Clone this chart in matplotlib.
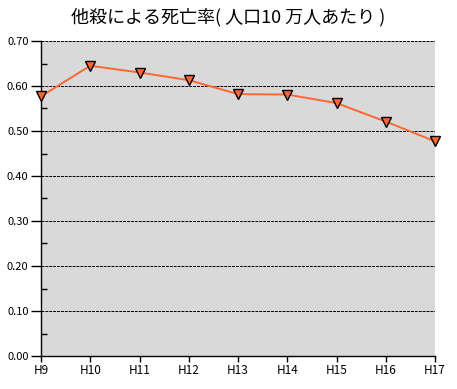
import numpy as np
import matplotlib.pyplot as plt
from matplotlib.ticker import MultipleLocator

plt.rcParams['font.family'] = ['Noto Sans CJK JP', 'DejaVu Sans']

# data
years = ['H9', 'H10', 'H11', 'H12', 'H13', 'H14', 'H15', 'H16', 'H17']
rate = [0.577, 0.645, 0.630, 0.613, 0.582, 0.581, 0.562, 0.521, 0.477]
title = '他殺による死亡率( 人口10 万人あたり )'

fig = plt.figure(figsize=(4.57, 3.89), dpi=100)
ax = fig.add_axes([41/457, 1-356/389, (435-41)/457, (356-41)/389])
ax.set_facecolor('#d9d9d9')

x = np.arange(len(years))
ax.plot(x, rate, color='#ff6633', lw=1.4, marker='v', ms=7.5,
        mfc='#ff6633', mec='black', mew=1.0, clip_on=False, zorder=3)

ax.set_xlim(0, len(years) - 1)
ax.set_ylim(0, 0.70)
ax.set_xticks(x)
ax.set_xticklabels(years)
ax.yaxis.set_major_locator(MultipleLocator(0.1))
ax.yaxis.set_minor_locator(MultipleLocator(0.05))
ax.yaxis.set_major_formatter(plt.FuncFormatter(lambda v, p: f'{v:.2f}'))

ax.grid(axis='y', which='major', color='black', lw=0.7, ls=(0, (3, 1)))
ax.set_axisbelow(True)

for s in ['top', 'right']:
    ax.spines[s].set_visible(False)
for s in ['left', 'bottom']:
    ax.spines[s].set_color('black')
    ax.spines[s].set_linewidth(1.0)

ax.tick_params(axis='y', which='major', direction='out', length=7, width=1, labelsize=8, pad=2)
ax.tick_params(axis='y', which='minor', direction='in', length=4, width=1)
ax.tick_params(axis='x', direction='out', length=4, width=1, labelsize=8.5, pad=2)

fig.text(228/457, 1-17/389, title, ha='center', va='center', fontsize=13)

fig.savefig('out.png', dpi=100, facecolor='white')
